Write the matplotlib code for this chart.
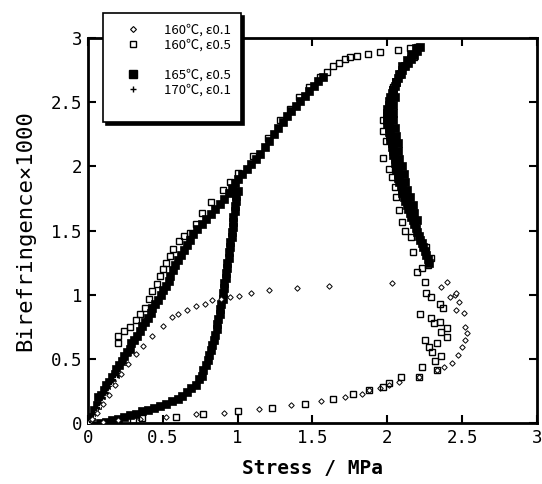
import numpy as np
import matplotlib.pyplot as plt
from matplotlib.lines import Line2D

plt.rcParams['font.family'] = ['DejaVu Sans Mono', 'Noto Sans CJK JP']

# 160C, strain rate 0.1 (small open diamonds)
d01_x = [0.03, 0.06, 0.10, 0.14, 0.18, 0.22, 0.27, 0.32, 0.37, 0.43, 0.50, 0.56, 0.60,
         0.66, 0.72, 0.78, 0.83, 0.89, 0.95, 1.01, 1.09, 1.21, 1.40, 1.61, 2.03,
         2.36, 2.40, 2.42, 2.45, 2.46, 2.48, 2.46, 2.51, 2.52, 2.53, 2.52, 2.50, 2.47,
         2.43, 2.38, 2.33, 2.21, 2.08, 2.01, 1.95, 1.88, 1.83, 1.72, 1.56, 1.36, 1.14,
         0.91, 0.72, 0.52, 0.35, 0.20, 0.10]
d01_y = [0.03, 0.08, 0.15, 0.22, 0.30, 0.38, 0.46, 0.54, 0.60, 0.68, 0.76, 0.83, 0.85,
         0.88, 0.91, 0.93, 0.96, 0.97, 0.98, 0.99, 1.01, 1.04, 1.05, 1.07, 1.09,
         1.06, 1.10, 0.98, 1.00, 1.01, 0.94, 0.88, 0.86, 0.75, 0.70, 0.65, 0.59, 0.53,
         0.47, 0.44, 0.41, 0.36, 0.32, 0.30, 0.27, 0.26, 0.23, 0.20, 0.17, 0.14, 0.11,
         0.08, 0.07, 0.05, 0.03, 0.02, 0.01]

# 160C, strain rate 0.5 (open squares)
s05_x = [0.20, 0.20, 0.24, 0.28, 0.32, 0.35, 0.38, 0.41, 0.43, 0.46, 0.48, 0.50, 0.52,
         0.55, 0.57, 0.61, 0.64, 0.68, 0.72, 0.76, 0.82, 0.90, 0.95,
         1.00, 1.10, 1.20, 1.28, 1.35, 1.41, 1.48, 1.55, 1.60, 1.64, 1.68, 1.72, 1.75,
         1.80, 1.87, 1.95, 2.07, 2.15, 2.20,
         2.18, 2.12, 2.08, 2.04, 2.02, 2.00, 1.97, 1.97, 1.99, 1.97, 2.01, 2.03, 2.05,
         2.06, 2.08, 2.10, 2.12, 2.16, 2.17, 2.26, 2.29, 2.23, 2.20, 2.25, 2.27,
         2.26, 2.29, 2.35, 2.37, 2.29, 2.35, 2.31, 2.40, 2.36, 2.40, 2.33, 2.28,
         2.36, 2.32, 2.33, 2.23, 2.21, 2.30, 2.25, 2.22,
         2.09, 2.01, 1.97, 1.88, 1.77, 1.64, 1.45, 1.23, 1.00, 0.77, 0.59, 0.36, 0.30]
s05_y = [0.62, 0.68, 0.72, 0.75, 0.80, 0.85, 0.90, 0.97, 1.03, 1.08, 1.15, 1.20, 1.25,
         1.30, 1.36, 1.42, 1.46, 1.48, 1.55, 1.64, 1.72, 1.82, 1.88,
         1.95, 2.08, 2.22, 2.36, 2.45, 2.54, 2.62, 2.70, 2.74, 2.78, 2.81, 2.84, 2.85,
         2.86, 2.88, 2.89, 2.91, 2.92, 2.93,
         2.85, 2.78, 2.72, 2.62, 2.52, 2.42, 2.36, 2.28, 2.20, 2.07, 1.98, 1.92, 1.84,
         1.76, 1.66, 1.57, 1.50, 1.45, 1.33, 1.37, 1.29, 1.21, 1.18, 1.10, 1.23,
         1.01, 0.98, 0.93, 0.90, 0.82, 0.79, 0.78, 0.74, 0.71, 0.67, 0.62, 0.59,
         0.52, 0.48, 0.41, 0.44, 0.36, 0.55, 0.65, 0.85,
         0.36, 0.31, 0.28, 0.26, 0.23, 0.19, 0.15, 0.12, 0.09, 0.07, 0.05, 0.04, 0.02]

# 165C, strain rate 0.5 (filled squares)
f05_x = [0.02, 0.04, 0.06, 0.07, 0.09, 0.11, 0.12, 0.14, 0.16, 0.18, 0.19, 0.21, 0.23,
         0.24, 0.26, 0.28, 0.29, 0.31, 0.33, 0.35, 0.36, 0.38, 0.40, 0.42, 0.43, 0.45,
         0.47, 0.49, 0.50, 0.52, 0.54, 0.55, 0.57, 0.58, 0.60, 0.62, 0.64, 0.66, 0.68,
         0.70, 0.73, 0.76, 0.79, 0.82, 0.85, 0.88, 0.91, 0.94, 0.96, 0.98, 1.00, 1.03,
         1.06, 1.09, 1.12, 1.15, 1.18, 1.21, 1.24, 1.27, 1.30, 1.33, 1.36, 1.39, 1.42,
         1.45, 1.48, 1.51, 1.54, 1.57,
         0.08, 0.12, 0.16, 0.20, 0.24, 0.28, 0.32, 0.36, 0.40, 0.44, 0.48, 0.52, 0.56,
         0.60, 0.63, 0.66, 0.69, 0.72, 0.74, 0.76, 0.77, 0.79, 0.80, 0.81, 0.82, 0.83,
         0.84, 0.85, 0.86, 0.86, 0.87, 0.88, 0.88, 0.89, 0.90, 0.90, 0.91, 0.91, 0.92,
         0.92, 0.93, 0.93, 0.94, 0.94, 0.95, 0.95, 0.96, 0.96, 0.97, 0.97, 0.97, 0.98,
         0.98, 0.99, 0.99, 1.00,
         2.22, 2.20, 2.18, 2.16, 2.14, 2.12, 2.10, 2.09, 2.07, 2.06, 2.05, 2.04, 2.03,
         2.02, 2.01, 2.01, 2.00, 2.00, 2.00, 2.00, 2.00, 2.01, 2.01, 2.02, 2.02, 2.03,
         2.03, 2.04, 2.04, 2.05, 2.05, 2.06, 2.06, 2.07, 2.07, 2.08, 2.09, 2.10, 2.10,
         2.11, 2.12, 2.13, 2.14, 2.15, 2.16, 2.17, 2.18, 2.19, 2.20, 2.21, 2.22, 2.23,
         2.24, 2.25, 2.26, 2.27, 2.28,
         2.19, 2.16, 2.13, 2.10, 2.08, 2.06, 2.04, 2.05, 2.04, 2.04, 2.04, 2.05, 2.06,
         2.07, 2.07, 2.08, 2.10, 2.11, 2.12, 2.13, 2.15, 2.17, 2.18, 2.20]
f05_y = [0.05, 0.10, 0.14, 0.20, 0.22, 0.26, 0.30, 0.32, 0.36, 0.38, 0.42, 0.45, 0.48,
         0.52, 0.55, 0.58, 0.62, 0.65, 0.68, 0.72, 0.76, 0.79, 0.82, 0.86, 0.90, 0.93,
         0.96, 1.00, 1.04, 1.07, 1.11, 1.15, 1.19, 1.23, 1.27, 1.31, 1.35, 1.39, 1.43,
         1.47, 1.51, 1.55, 1.59, 1.63, 1.67, 1.71, 1.75, 1.79, 1.83, 1.87, 1.90, 1.94,
         1.98, 2.02, 2.06, 2.10, 2.15, 2.20, 2.25, 2.30, 2.35, 2.39, 2.43, 2.47, 2.51,
         2.55, 2.59, 2.63, 2.67, 2.70,
         0.00, 0.01, 0.02, 0.03, 0.05, 0.06, 0.07, 0.09, 0.10, 0.12, 0.13, 0.15, 0.17,
         0.19, 0.21, 0.24, 0.27, 0.30, 0.34, 0.37, 0.41, 0.45, 0.49, 0.53, 0.57, 0.61,
         0.65, 0.69, 0.73, 0.77, 0.81, 0.85, 0.89, 0.93, 0.97, 1.01, 1.05, 1.09, 1.13,
         1.17, 1.21, 1.25, 1.29, 1.33, 1.37, 1.41, 1.45, 1.49, 1.53, 1.57, 1.61, 1.65,
         1.69, 1.73, 1.77, 1.81,
         2.93, 2.90, 2.87, 2.84, 2.81, 2.78, 2.75, 2.72, 2.69, 2.66, 2.63, 2.60, 2.57,
         2.54, 2.51, 2.48, 2.45, 2.42, 2.39, 2.36, 2.33, 2.30, 2.27, 2.24, 2.21, 2.18,
         2.15, 2.12, 2.09, 2.06, 2.03, 2.00, 1.97, 1.94, 1.91, 1.88, 1.85, 1.82, 1.79,
         1.76, 1.73, 1.70, 1.67, 1.64, 1.61, 1.58, 1.55, 1.52, 1.49, 1.46, 1.43, 1.40,
         1.37, 1.34, 1.31, 1.28, 1.25,
         2.92, 2.88, 2.83, 2.78, 2.72, 2.66, 2.60, 2.54, 2.48, 2.42, 2.36, 2.30, 2.24,
         2.18, 2.12, 2.06, 2.00, 1.94, 1.88, 1.82, 1.76, 1.70, 1.64, 1.58]

# 170C, strain rate 0.1 (small crosses)
c01_x = [0.00, 0.02, 0.04, 0.06, 0.08, 0.10, 0.12, 0.14, 0.16, 0.19, 0.22, 0.26, 0.30]
c01_y = [0.00, 0.02, 0.05, 0.09, 0.13, 0.17, 0.21, 0.25, 0.30, 0.35, 0.40, 0.46, 0.52]

fig = plt.figure(figsize=(5.42, 4.84), dpi=100)
ax = fig.add_axes([0.162, 0.126, 0.829, 0.795])

ax.plot(f05_x, f05_y, 's', color='black', ms=5.2, mec='black', mew=0.5, zorder=2)
ax.plot(c01_x, c01_y, '+', color='white', ms=2.5, mew=0.6, zorder=3)
ax.plot(d01_x, d01_y, 'D', mfc='white', mec='black', ms=2.8, mew=0.7, zorder=3)
ax.plot(s05_x, s05_y, 's', mfc='none', mec='black', ms=4.3, mew=1.0, zorder=4)

ax.set_xlim(0, 3)
ax.set_ylim(0, 3)
ticks = [0, 0.5, 1, 1.5, 2, 2.5, 3]
labels = ['0', '0.5', '1', '1.5', '2', '2.5', '3']
ax.set_xticks(ticks)
ax.set_xticklabels(labels)
ax.set_yticks(ticks)
ax.set_yticklabels(labels)
ax.tick_params(direction='in', top=True, right=True, length=6, width=1.5,
               labelsize=12.5, pad=4)
for sp in ax.spines.values():
    sp.set_linewidth(2)

ax.set_xlabel('Stress / MPa', fontsize=14, fontweight='bold', labelpad=9)
ax.set_ylabel('Birefringence×1000', fontsize=16, labelpad=11)

handles = [
    Line2D([], [], ls='none', marker='D', mfc='white', mec='black', ms=3, mew=0.8),
    Line2D([], [], ls='none', marker='s', mfc='none', mec='black', ms=4, mew=1.0),
    Line2D([], [], ls='none', marker='none'),
    Line2D([], [], ls='none', marker='s', color='black', ms=5.5),
    Line2D([], [], ls='none', marker='+', color='black', ms=5, mew=1),
    Line2D([], [], ls='none', marker='none'),
]
names = ['160℃, ε0.1', '160℃, ε0.5', '', '165℃, ε0.5', '170℃, ε0.1', '']
leg = fig.legend(handles, names, loc='upper left', bbox_to_anchor=(103 / 542, 1 - 13 / 484),
                 prop={'family': ['Noto Sans CJK JP', 'DejaVu Sans'], 'size': 9.5},
                 frameon=True, fancybox=False, shadow={'color': 'black', 'alpha': 1},
                 handlelength=3.0, handletextpad=0.8, labelspacing=0.15,
                 borderpad=0.8, borderaxespad=0)
leg.get_frame().set_edgecolor('black')
leg.get_frame().set_linewidth(1.2)
leg.get_frame().set_alpha(1)
leg.set_zorder(10)

plt.savefig('out.png', dpi=100)
plt.close()
